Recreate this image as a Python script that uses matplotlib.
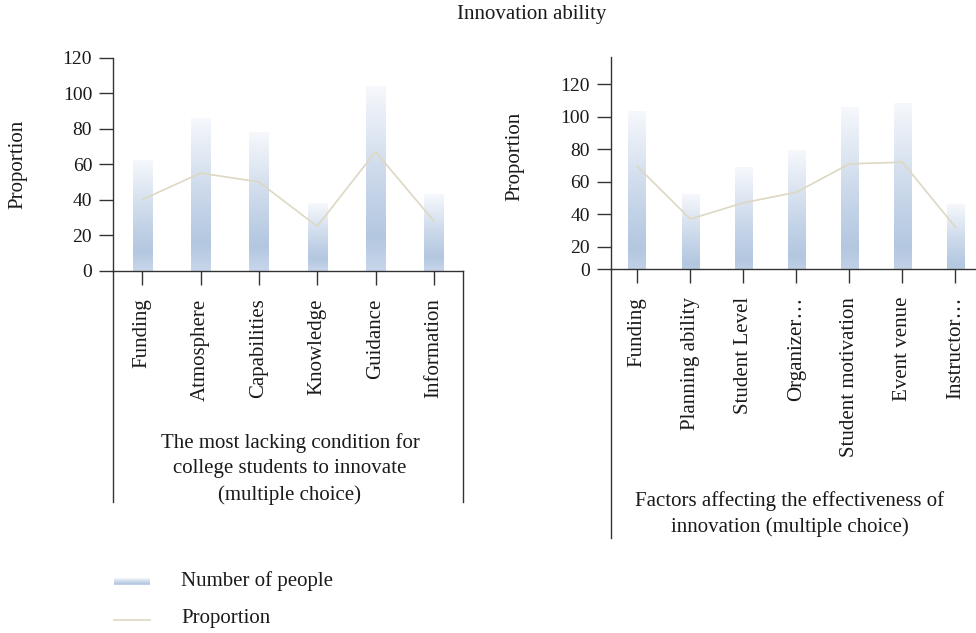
import numpy as np
import matplotlib
matplotlib.use("Agg")
from matplotlib import pyplot as plt
from matplotlib.colors import LinearSegmentedColormap
from matplotlib.lines import Line2D

# left panel: most lacking condition
conditions = ["Funding", "Atmosphere", "Capabilities", "Knowledge", "Guidance", "Information"]
condition_people = [62, 86, 78, 38, 104, 43]
condition_prop = [40, 55, 50, 25, 67, 28]

# right panel: factors affecting effectiveness
factors = ["Funding", "Planning ability", "Student Level", "Organizer\u2026",
           "Student motivation", "Event venue", "Instructor\u2026"]
factor_people = [103, 52, 69, 79, 106, 108, 46]
factor_prop = [69.5, 37, 47, 53.5, 71, 72, 32]

y_ticks = [0, 20, 40, 60, 80, 100, 120]

plt.rcParams['font.family'] = ['Liberation Serif', 'DejaVu Serif']
FS = 15
TICK_FS = 14
TXT = "#1a1a1a"
AX = "#333333"
LINE_C = "#ddd8c2"

bar_cmap = LinearSegmentedColormap.from_list(
    "barfade", [(0.0, "#c8d6ea"), (0.18, "#b3c7e0"), (0.5, "#cad8ea"), (1.0, "#f6f8fc")])
grad = np.linspace(0, 1, 256).reshape(-1, 1)

fig = plt.figure(figsize=(9.76, 6.33), dpi=100)
W, H = 976.0, 633.0


def panel(rect, cats, people, prop, ylo, yhi, ext_px, bracket):
    ax = fig.add_axes(rect)
    x = np.arange(len(cats))
    for xi, h in zip(x, people):
        ax.imshow(grad, extent=(xi - 0.165, xi + 0.165, 0, h), origin='lower',
                  cmap=bar_cmap, aspect='auto', zorder=1, interpolation='bilinear')
    ax.plot(x, prop, color=LINE_C, lw=1.2, zorder=2)
    ax.set_xlim(-0.5, len(cats) - 0.5)
    ax.set_ylim(ylo, yhi)
    ticks = [max(t, ylo) for t in y_ticks]
    ax.set_yticks(ticks)
    ax.set_yticklabels([str(t) for t in y_ticks], fontsize=TICK_FS)
    ax.set_xticks(x)
    ax.set_xticklabels(cats, rotation=90, va='top', ha='center', fontsize=FS)
    for s in ("top", "right"):
        ax.spines[s].set_visible(False)
    for s in ("left", "bottom"):
        ax.spines[s].set_color(AX)
        ax.spines[s].set_linewidth(1.0)
    ax.tick_params(axis='both', direction='out', length=10, width=1.0, color=AX,
                   labelcolor=TXT)
    ax.tick_params(axis='y', pad=5)
    ax.tick_params(axis='x', pad=10)
    ax.set_ylabel("Proportion", fontsize=FS, color=TXT)
    # group bracket lines hanging below the category axis
    h_px = rect[3] * H
    ext = -ext_px / h_px
    ax.add_line(Line2D([0, 0], [0, ext], transform=ax.transAxes, color=AX,
                       lw=1.0, clip_on=False))
    if bracket:
        ax.add_line(Line2D([1, 1], [0, ext], transform=ax.transAxes, color=AX,
                           lw=1.0, clip_on=False))
    return ax


left = panel([113 / W, 1 - 270.7 / H, 350 / W, 213 / H], conditions,
             condition_people, condition_prop, 0, 120, 231, True)
left.yaxis.set_label_coords(-0.246, 0.5)

right = panel([610.7 / W, 1 - 269 / H, 371.3 / W, 212 / H], factors,
              factor_people, factor_prop, 6.24, 136.8, 269, False)
right.yaxis.set_label_coords(-0.233, 0.53)

fig.text(532 / W, 1 - 14 / H, "Innovation ability", ha='center', va='center',
         fontsize=FS, color=TXT)

fig.text(290 / W, 1 - 469 / H,
         "The most lacking condition for\ncollege students to innovate\n(multiple choice)",
         ha='center', va='center', fontsize=FS, color=TXT, linespacing=1.45)
fig.text(790 / W, 1 - 514 / H,
         "Factors affecting the effectiveness of\ninnovation (multiple choice)",
         ha='center', va='center', fontsize=FS, color=TXT, linespacing=1.45)

# legend drawn by hand
sw = fig.add_axes([114 / W, 1 - 585 / H, 36 / W, 7 / H])
sw.imshow(grad, origin='lower', cmap=bar_cmap, aspect='auto', extent=(0, 1, 0, 1))
sw.set_axis_off()
fig.add_artist(Line2D([114 / W, 150 / W], [1 - 620 / H, 1 - 620 / H],
                      transform=fig.transFigure, color=LINE_C, lw=1.2))
fig.text(181 / W, 1 - 581 / H, "Number of people", ha='left', va='center',
         fontsize=FS, color=TXT)
fig.text(181 / W, 1 - 619 / H, "Proportion", ha='left', va='center',
         fontsize=FS, color=TXT)

fig.savefig("out.png", dpi=100)
